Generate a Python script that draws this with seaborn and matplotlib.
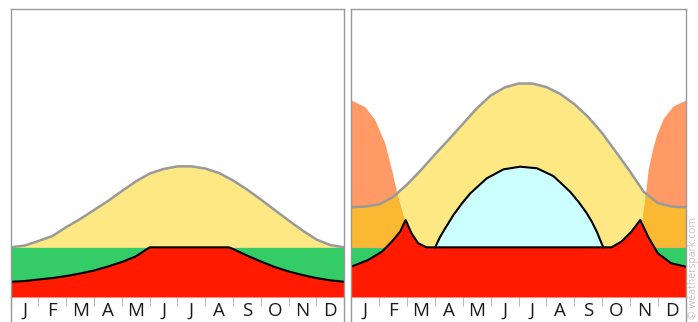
import numpy as np
import matplotlib.pyplot as plt
import seaborn as sns

# Month labels along the bottom strip
MONTH_LABELS = ["J", "F", "M", "A", "M", "J", "J", "A", "S", "O", "N", "D"]

# x grid (months since Jan 1) used by the twice-a-month readings
HALF_MONTHS = np.arange(0, 12.5, 0.5)

# level of the horizon band (hours)
BASE = 4.14

# --- left panel -------------------------------------------------------------
LEFT_GRAY = [4.14, 4.29, 4.67, 5.08, 5.83, 6.50, 7.25, 8.00, 8.83, 9.63, 10.29,
             10.67, 10.89, 10.89, 10.71, 10.33, 9.71, 8.96, 8.13, 7.25, 6.38,
             5.54, 4.79, 4.33, 4.14]
LEFT_RED_X = [0, 0.5, 1, 1.5, 2, 2.5, 3, 3.5, 4, 4.5, 5.0, 7.85, 8.0, 8.5, 9,
              9.5, 10, 10.5, 11, 11.5, 12]
LEFT_RED = [1.27, 1.33, 1.46, 1.58, 1.75, 1.96, 2.21, 2.54, 2.92, 3.38, 4.14,
            4.14, 4.00, 3.46, 2.96, 2.50, 2.13, 1.83, 1.58, 1.39, 1.27]

# --- right panel ------------------------------------------------------------
RIGHT_GRAY = [7.48, 7.54, 7.71, 8.33, 9.38, 10.58, 11.88, 13.13, 14.42, 15.71,
              16.79, 17.46, 17.79, 17.79, 17.50, 16.92, 16.08, 15.00, 13.67,
              12.08, 10.46, 8.75, 7.83, 7.54, 7.48]
SALMON_LEFT_X = [0, 0.5, 0.85, 1.2, 1.45, 1.65, 1.85, 2.05, 2.2]
SALMON_LEFT = [16.42, 15.83, 14.75, 12.83, 10.58, 8.50, 6.83, 5.17, 4.14]
SALMON_RIGHT_X = [10.2, 10.32, 10.42, 10.52, 10.65, 10.8, 10.95, 11.2, 11.55, 12]
SALMON_RIGHT = [4.14, 5.17, 6.25, 7.83, 10.58, 12.25, 13.50, 14.92, 15.92, 16.42]
BLUE_X = [3.01, 3.19, 3.37, 3.67, 3.97, 4.27, 4.86, 5.46, 6.06, 6.66, 7.25,
          7.85, 8.15, 8.45, 8.63, 8.81, 9.04]
BLUE = [4.14, 5.03, 5.73, 6.85, 7.80, 8.64, 9.89, 10.64, 10.86, 10.73, 10.08,
        8.78, 7.94, 6.98, 6.28, 5.44, 4.14]
RIGHT_RED_X = [0, 0.6, 1.1, 1.45, 1.75, 1.95, 2.16, 2.4, 2.7, 9.33, 9.69,
               10.05, 10.37, 10.65, 11.0, 11.48, 12]
RIGHT_RED = [2.53, 3.08, 3.78, 4.61, 5.44, 6.42, 5.31, 4.48, 4.14, 4.14, 4.61,
             5.44, 6.42, 5.03, 3.64, 2.81, 2.53]

# colours
GREEN = "#33CC66"
YELLOW = "#FDE883"
RED = "#FF1A00"
SALMON = "#FF9966"
ORANGE = "#FBB833"
LIGHT_BLUE = "#CCFFFF"
FRAME = "#999999"

sns.set_style("white")
plt.rcParams["font.family"] = ["Open Sans", "DejaVu Sans"]

fig = plt.figure(figsize=(6.98, 3.22), dpi=100)
ax_left = fig.add_axes([0.0153, 0.0776, 0.4779, 0.8944])
ax_right = fig.add_axes([0.5033, 0.0776, 0.4791, 0.8944])


def draw_panel(ax, gray, red_x, red, salmons=(), blue=None):
    """Horizon band, yellow arc under the gray curve, red region under the black line."""
    ax.fill_between([0, 12], 0, BASE, color=GREEN, lw=0)
    yellow = ax.fill_between(HALF_MONTHS, BASE, gray, color=YELLOW, lw=0)

    # salmon humps, orange where they overlap the yellow area
    for sx, sy in salmons:
        ax.fill_between(sx, BASE, sy, color=SALMON, lw=0)
        overlap = ax.fill_between(sx, BASE, sy, color=ORANGE, lw=0)
        overlap.set_clip_path(yellow.get_paths()[0], ax.transData)

    sns.lineplot(x=HALF_MONTHS, y=gray, color="#9a9a9a", lw=1.8,
                 estimator=None, legend=False, ax=ax)

    if blue is not None:
        bx, by = blue
        ax.fill_between(bx, BASE, by, color=LIGHT_BLUE, lw=0)
        sns.lineplot(x=bx, y=by, color="black", lw=1.5,
                     estimator=None, legend=False, ax=ax)

    ax.fill_between(red_x, 0, red, color=RED, lw=0)
    sns.lineplot(x=red_x, y=red, color="black", lw=1.5,
                 estimator=None, legend=False, ax=ax)

    ax.set_xlim(0, 12)
    ax.set_ylim(0, 24)
    ax.set_xlabel("")
    ax.set_ylabel("")
    ax.set_yticks([])

    # month boundaries as ticks, labels centred in each month
    ax.set_xticks(range(13))
    ax.set_xticklabels([])
    ax.set_xticks(np.arange(12) + 0.5, minor=True)
    ax.set_xticklabels(MONTH_LABELS, minor=True, fontsize=13.5, color="#1a1a1a")
    ax.tick_params(axis="x", which="major", bottom=True, direction="out",
                   length=6.5, width=0.8, color="#bbbbbb")
    ax.tick_params(axis="x", which="minor", bottom=False, pad=1.5)

    for side in ["left", "right", "top"]:
        ax.spines[side].set_color(FRAME)
        ax.spines[side].set_linewidth(1)
    ax.spines["bottom"].set_visible(False)

    # side borders carry on through the label strip
    for x in [0, 12]:
        ax.plot([x, x], [-0.1, 0], color=FRAME, lw=1,
                transform=ax.get_xaxis_transform(), clip_on=False)


draw_panel(ax_left, LEFT_GRAY, LEFT_RED_X, LEFT_RED)
draw_panel(ax_right, RIGHT_GRAY, RIGHT_RED_X, RIGHT_RED,
           salmons=[(SALMON_LEFT_X, SALMON_LEFT), (SALMON_RIGHT_X, SALMON_RIGHT)],
           blue=(BLUE_X, BLUE))

fig.text(0.993, 0.01, "© weatherspark.com", rotation=90, fontsize=7.5,
         color="#c4c4c4", ha="center", va="bottom")

fig.savefig("out.png", dpi=100)
